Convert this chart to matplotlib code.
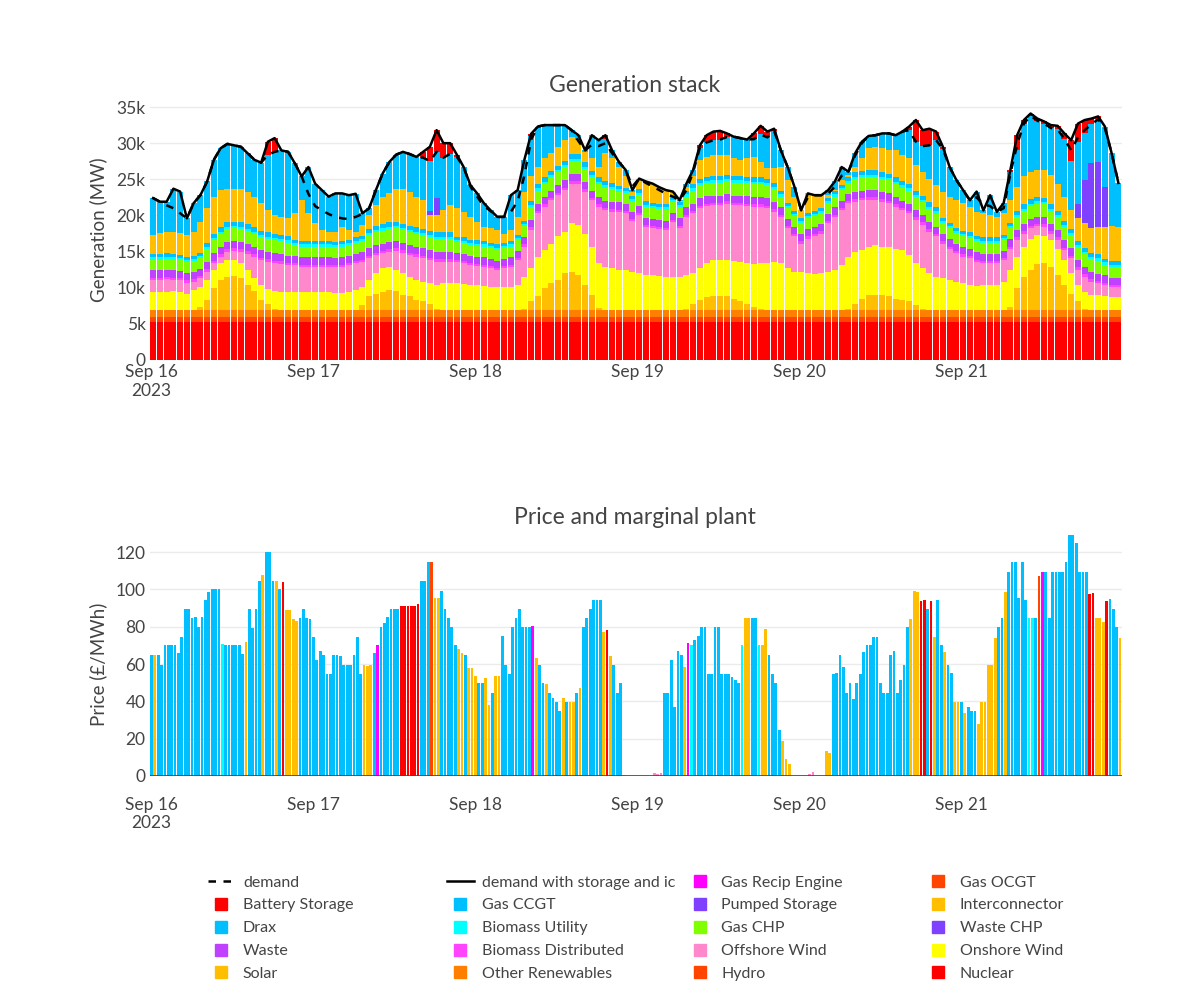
import matplotlib
matplotlib.use("Agg")
import matplotlib.pyplot as plt
from matplotlib.lines import Line2D
import numpy as np

plt.rcParams["font.family"] = ["Lato", "DejaVu Sans"]

# Generation stack, GW, hourly from Sep 16 2023 00:00 (one row per day)
nuclear = [
    5.3, 5.3, 5.3, 5.3, 5.3, 5.3, 5.3, 5.3, 5.3, 5.3, 5.3, 5.3, 5.3, 5.3, 5.3, 5.3, 5.3, 5.3, 5.3, 5.3, 5.3, 5.3, 5.3, 5.3,
    5.3, 5.3, 5.3, 5.3, 5.3, 5.3, 5.3, 5.3, 5.3, 5.3, 5.3, 5.3, 5.3, 5.3, 5.3, 5.3, 5.3, 5.3, 5.3, 5.3, 5.3, 5.3, 5.3, 5.3,
    5.3, 5.3, 5.3, 5.3, 5.3, 5.3, 5.3, 5.3, 5.3, 5.3, 5.3, 5.3, 5.3, 5.3, 5.3, 5.3, 5.3, 5.3, 5.3, 5.3, 5.3, 5.3, 5.3, 5.3,
    5.3, 5.3, 5.3, 5.3, 5.3, 5.3, 5.3, 5.3, 5.3, 5.3, 5.3, 5.3, 5.3, 5.3, 5.3, 5.3, 5.3, 5.3, 5.3, 5.3, 5.3, 5.3, 5.3, 5.3,
    5.3, 5.3, 5.3, 5.3, 5.3, 5.3, 5.3, 5.3, 5.3, 5.3, 5.3, 5.3, 5.3, 5.3, 5.3, 5.3, 5.3, 5.3, 5.3, 5.3, 5.3, 5.3, 5.3, 5.3,
    5.3, 5.3, 5.3, 5.3, 5.3, 5.3, 5.3, 5.3, 5.3, 5.3, 5.3, 5.3, 5.3, 5.3, 5.3, 5.3, 5.3, 5.3, 5.3, 5.3, 5.3, 5.3, 5.3, 5.3,
]
hydro = [
    0.7, 0.7, 0.7, 0.7, 0.7, 0.7, 0.7, 0.7, 0.7, 0.7, 0.7, 0.7, 0.7, 0.7, 0.7, 0.7, 0.7, 0.7, 0.7, 0.7, 0.7, 0.7, 0.7, 0.7,
    0.7, 0.7, 0.7, 0.7, 0.7, 0.7, 0.7, 0.7, 0.7, 0.7, 0.7, 0.7, 0.7, 0.7, 0.7, 0.7, 0.7, 0.7, 0.7, 0.7, 0.7, 0.7, 0.7, 0.7,
    0.7, 0.7, 0.7, 0.7, 0.7, 0.7, 0.7, 0.7, 0.7, 0.7, 0.7, 0.7, 0.7, 0.7, 0.7, 0.7, 0.7, 0.7, 0.7, 0.7, 0.7, 0.7, 0.7, 0.7,
    0.7, 0.7, 0.7, 0.7, 0.7, 0.7, 0.7, 0.7, 0.7, 0.7, 0.7, 0.7, 0.7, 0.7, 0.7, 0.7, 0.7, 0.7, 0.7, 0.7, 0.7, 0.7, 0.7, 0.7,
    0.7, 0.7, 0.7, 0.7, 0.7, 0.7, 0.7, 0.7, 0.7, 0.7, 0.7, 0.7, 0.7, 0.7, 0.7, 0.7, 0.7, 0.7, 0.7, 0.7, 0.7, 0.7, 0.7, 0.7,
    0.7, 0.7, 0.7, 0.7, 0.7, 0.7, 0.7, 0.7, 0.7, 0.7, 0.7, 0.7, 0.7, 0.7, 0.7, 0.7, 0.7, 0.7, 0.7, 0.7, 0.7, 0.7, 0.7, 0.7,
]
other_renewables = [
    0.9, 0.9, 0.9, 0.9, 0.9, 0.9, 0.9, 0.9, 0.9, 0.9, 0.9, 0.9, 0.9, 0.9, 0.9, 0.9, 0.9, 0.9, 0.9, 0.9, 0.9, 0.9, 0.9, 0.9,
    0.9, 0.9, 0.9, 0.9, 0.9, 0.9, 0.9, 0.9, 0.9, 0.9, 0.9, 0.9, 0.9, 0.9, 0.9, 0.9, 0.9, 0.9, 0.9, 0.9, 0.9, 0.9, 0.9, 0.9,
    0.9, 0.9, 0.9, 0.9, 0.9, 0.9, 0.9, 0.9, 0.9, 0.9, 0.9, 0.9, 0.9, 0.9, 0.9, 0.9, 0.9, 0.9, 0.9, 0.9, 0.9, 0.9, 0.9, 0.9,
    0.9, 0.9, 0.9, 0.9, 0.9, 0.9, 0.9, 0.9, 0.9, 0.9, 0.9, 0.9, 0.9, 0.9, 0.9, 0.9, 0.9, 0.9, 0.9, 0.9, 0.9, 0.9, 0.9, 0.9,
    0.9, 0.9, 0.9, 0.9, 0.9, 0.9, 0.9, 0.9, 0.9, 0.9, 0.9, 0.9, 0.9, 0.9, 0.9, 0.9, 0.9, 0.9, 0.9, 0.9, 0.9, 0.9, 0.9, 0.9,
    0.9, 0.9, 0.9, 0.9, 0.9, 0.9, 0.9, 0.9, 0.9, 0.9, 0.9, 0.9, 0.9, 0.9, 0.9, 0.9, 0.9, 0.9, 0.9, 0.9, 0.9, 0.9, 0.9, 0.9,
]
solar = [
    0, 0, 0, 0, 0, 0, 0, 0.5, 1.4, 3.0, 4.2, 4.6, 4.7, 4.4, 3.5, 2.6, 1.4, 0.8, 0.2, 0, 0, 0, 0, 0,
    0, 0, 0, 0, 0, 0, 0, 0.7, 2.0, 2.3, 2.5, 2.8, 2.6, 2.1, 1.9, 1.4, 1.2, 0.9, 0.2, 0, 0, 0, 0, 0,
    0, 0, 0, 0, 0, 0, 0, 0.2, 1.2, 1.9, 3.0, 3.8, 4.2, 5.1, 5.3, 4.9, 3.5, 2.1, 0.3, 0, 0, 0, 0, 0,
    0, 0, 0, 0, 0, 0, 0, 0.2, 0.9, 1.4, 1.8, 1.9, 1.9, 1.9, 1.6, 1.2, 0.8, 0.5, 0.1, 0, 0, 0, 0, 0,
    0, 0, 0, 0, 0, 0, 0, 0.2, 0.9, 1.6, 2.1, 2.1, 2.1, 1.9, 1.6, 1.4, 1.2, 0.7, 0.1, 0, 0, 0, 0, 0,
    0, 0, 0, 0, 0, 0, 0, 0.5, 3.0, 4.6, 5.5, 6.4, 6.5, 6.0, 4.9, 3.5, 2.3, 1.2, 0.2, 0, 0, 0, 0, 0,
]
onshore_wind = [
    2.55, 2.55, 2.55, 2.65, 2.55, 2.3, 2.8, 2.7, 2.8, 2.5, 2.3, 2.4, 2.2, 2.1, 2.0, 1.8, 2.1, 2.1, 2.5, 2.55, 2.55, 2.55, 2.55, 2.55,
    2.55, 2.55, 2.55, 2.4, 2.4, 2.55, 2.8, 2.5, 2.2, 2.8, 3.3, 3.2, 3.0, 3.0, 2.7, 2.8, 2.7, 2.8, 3.3, 3.7, 3.7, 3.7, 3.6, 3.5,
    3.5, 3.3, 3.15, 3.15, 3.15, 3.2, 3.5, 4.4, 4.6, 5.5, 5.3, 5.4, 6.0, 5.7, 6.8, 6.9, 7.1, 6.7, 6.2, 6.0, 5.8, 5.55, 5.55, 5.3,
    5.1, 4.85, 4.85, 4.7, 4.6, 4.6, 4.6, 4.65, 4.2, 4.4, 4.7, 5.0, 5.1, 5.0, 5.2, 5.5, 5.7, 5.95, 6.4, 6.5, 6.7, 6.5, 5.8, 5.3,
    5.3, 5.1, 5.0, 5.1, 5.3, 5.55, 6.2, 7.2, 7.2, 6.7, 6.7, 6.9, 6.7, 6.9, 6.9, 6.9, 6.4, 5.8, 5.7, 5.1, 4.6, 4.4, 4.2, 3.9,
    3.7, 3.5, 3.3, 3.5, 3.5, 3.5, 3.9, 5.05, 4.4, 4.2, 4.4, 4.0, 3.7, 3.7, 3.6, 3.4, 2.8, 2.3, 2.35, 2.1, 2.1, 1.95, 1.85, 1.85,
]
offshore_wind = [
    1.65, 1.65, 1.75, 1.55, 1.55, 1.5, 1.15, 1.2, 1.1, 1.0, 0.9, 1.1, 1.3, 1.6, 2.3, 3.0, 3.4, 3.8, 3.8, 3.85, 3.65, 3.65, 3.45, 3.45,
    3.45, 3.45, 3.45, 3.5, 3.6, 3.65, 3.7, 3.5, 3.0, 2.5, 2.05, 2.1, 2.6, 2.8, 3.0, 3.2, 3.3, 3.2, 3.2, 3.0, 3.0, 2.9, 2.9, 2.7,
    2.6, 2.7, 2.65, 2.4, 2.65, 2.8, 3.4, 4.2, 5.3, 6.0, 6.0, 6.0, 5.7, 5.8, 5.4, 5.7, 5.8, 6.4, 7.8, 7.8, 7.8, 8.05, 7.85, 7.0,
    8.05, 6.65, 6.45, 6.5, 6.5, 7.6, 6.8, 8.05, 8.3, 8.3, 7.9, 7.6, 7.5, 7.8, 7.7, 7.8, 7.9, 7.85, 7.8, 7.6, 6.9, 6.4, 5.5, 4.9,
    3.9, 4.8, 5.2, 5.5, 6.7, 7.35, 7.6, 7.4, 6.9, 6.9, 6.5, 6.3, 6.2, 6.0, 5.8, 5.5, 5.8, 6.0, 6.0, 5.75, 5.6, 4.8, 4.3, 3.95,
    3.7, 3.7, 3.4, 3.0, 3.0, 3.0, 3.0, 2.95, 2.3, 1.8, 1.4, 1.2, 1.3, 0.9, 1.2, 1.4, 2.1, 2.05, 2.05, 1.8, 1.6, 1.55, 1.35, 1.35,
]
biomass_distributed = [
    0.3, 0.3, 0.3, 0.3, 0.3, 0.3, 0.3, 0.3, 0.35, 0.35, 0.35, 0.35, 0.35, 0.35, 0.35, 0.35, 0.35, 0.35, 0.35, 0.35, 0.35, 0.3, 0.3, 0.3,
    0.3, 0.3, 0.3, 0.3, 0.3, 0.3, 0.3, 0.3, 0.35, 0.35, 0.35, 0.35, 0.35, 0.35, 0.35, 0.35, 0.35, 0.35, 0.35, 0.35, 0.35, 0.3, 0.3, 0.3,
    0.3, 0.3, 0.3, 0.3, 0.3, 0.3, 0.3, 0.3, 0.35, 0.35, 0.35, 0.35, 0.35, 0.35, 0.35, 0.35, 0.35, 0.35, 0.35, 0.35, 0.35, 0.3, 0.3, 0.3,
    0.3, 0.3, 0.3, 0.3, 0.3, 0.3, 0.3, 0.3, 0.35, 0.35, 0.35, 0.35, 0.35, 0.35, 0.35, 0.35, 0.35, 0.35, 0.35, 0.35, 0.35, 0.3, 0.3, 0.3,
    0.3, 0.3, 0.3, 0.3, 0.3, 0.3, 0.3, 0.3, 0.35, 0.35, 0.35, 0.35, 0.35, 0.35, 0.35, 0.35, 0.35, 0.35, 0.35, 0.35, 0.35, 0.3, 0.3, 0.3,
    0.3, 0.3, 0.3, 0.3, 0.3, 0.3, 0.3, 0.3, 0.35, 0.35, 0.35, 0.35, 0.35, 0.35, 0.35, 0.35, 0.35, 0.35, 0.35, 0.35, 0.35, 0.3, 0.3, 0.3,
]
waste = [
    1.0, 1.0, 1.0, 1.0, 1.0, 1.0, 1.0, 1.0, 1.0, 1.0, 1.0, 1.0, 1.0, 1.0, 1.0, 1.0, 1.0, 1.0, 1.0, 1.0, 1.0, 1.0, 1.0, 1.0,
    1.0, 1.0, 1.0, 1.0, 1.0, 1.0, 1.0, 1.0, 1.0, 1.0, 1.0, 1.0, 1.0, 1.0, 1.0, 1.0, 1.0, 1.0, 1.0, 1.0, 1.0, 1.0, 1.0, 1.0,
    1.0, 1.0, 1.0, 1.0, 1.0, 1.0, 1.0, 1.0, 1.0, 1.0, 1.0, 1.0, 1.0, 1.0, 1.0, 1.0, 1.0, 1.0, 1.0, 1.0, 1.0, 1.0, 1.0, 1.0,
    1.0, 1.0, 1.0, 1.0, 1.0, 1.0, 1.0, 1.0, 1.0, 1.0, 1.0, 1.0, 1.0, 1.0, 1.0, 1.0, 1.0, 1.0, 1.0, 1.0, 1.0, 1.0, 1.0, 1.0,
    1.0, 1.0, 1.0, 1.0, 1.0, 1.0, 1.0, 1.0, 1.0, 1.0, 1.0, 1.0, 1.0, 1.0, 1.0, 1.0, 1.0, 1.0, 1.0, 1.0, 1.0, 1.0, 1.0, 1.0,
    1.0, 1.0, 1.0, 1.0, 1.0, 1.0, 1.0, 1.0, 1.0, 1.0, 1.0, 1.0, 1.0, 1.0, 1.0, 1.0, 1.0, 1.0, 1.0, 1.0, 1.0, 1.0, 1.0, 1.0,
]
gas_chp = [
    1.5, 1.5, 1.5, 1.5, 1.5, 1.5, 1.5, 1.5, 1.8, 1.8, 1.8, 1.8, 1.8, 1.8, 1.8, 1.8, 1.8, 1.8, 1.8, 1.8, 1.8, 1.5, 1.5, 1.5,
    1.5, 1.5, 1.5, 1.5, 1.5, 1.5, 1.5, 1.5, 1.8, 1.8, 1.8, 1.8, 1.8, 1.8, 1.8, 1.8, 1.8, 1.8, 1.8, 1.8, 1.8, 1.5, 1.5, 1.5,
    1.5, 1.5, 1.5, 1.5, 1.5, 1.5, 1.5, 1.5, 1.8, 1.8, 1.8, 1.8, 1.8, 1.8, 1.8, 1.8, 1.8, 1.8, 1.8, 1.8, 1.8, 1.5, 1.5, 1.5,
    1.5, 1.5, 1.5, 1.5, 1.5, 1.5, 1.5, 1.5, 1.8, 1.8, 1.8, 1.8, 1.8, 1.8, 1.8, 1.8, 1.8, 1.8, 1.8, 1.8, 1.8, 1.5, 1.5, 1.5,
    1.5, 1.5, 1.5, 1.5, 1.5, 1.5, 1.5, 1.5, 1.8, 1.8, 1.8, 1.8, 1.8, 1.8, 1.8, 1.8, 1.8, 1.8, 1.8, 1.8, 1.8, 1.5, 1.5, 1.5,
    1.5, 1.5, 1.5, 1.5, 1.5, 1.5, 1.5, 1.5, 1.8, 1.8, 1.8, 1.8, 1.8, 1.8, 1.8, 1.8, 1.8, 1.8, 1.8, 1.8, 1.8, 1.5, 1.5, 1.5,
]
biomass_utility = [
    0.3, 0.3, 0.3, 0.3, 0.3, 0.3, 0.3, 0.3, 0.3, 0.3, 0.3, 0.3, 0.3, 0.3, 0.3, 0.3, 0.3, 0.3, 0.3, 0.3, 0.3, 0.3, 0.3, 0.3,
    0.3, 0.3, 0.3, 0.3, 0.3, 0.3, 0.3, 0.3, 0.3, 0.3, 0.3, 0.3, 0.3, 0.3, 0.3, 0.3, 0.3, 0.3, 0.3, 0.3, 0.3, 0.3, 0.3, 0.3,
    0.3, 0.3, 0.3, 0.3, 0.3, 0.3, 0.3, 0.3, 0.3, 0.3, 0.3, 0.3, 0.3, 0.3, 0.3, 0.3, 0.3, 0.3, 0.3, 0.3, 0.3, 0.3, 0.3, 0.3,
    0.3, 0.3, 0.3, 0.3, 0.3, 0.3, 0.3, 0.3, 0.3, 0.3, 0.3, 0.3, 0.3, 0.3, 0.3, 0.3, 0.3, 0.3, 0.3, 0.3, 0.3, 0.3, 0.3, 0.3,
    0.3, 0.3, 0.3, 0.3, 0.3, 0.3, 0.3, 0.3, 0.3, 0.3, 0.3, 0.3, 0.3, 0.3, 0.3, 0.3, 0.3, 0.3, 0.3, 0.3, 0.3, 0.3, 0.3, 0.3,
    0.3, 0.3, 0.3, 0.3, 0.3, 0.3, 0.3, 0.3, 0.3, 0.3, 0.3, 0.3, 0.3, 0.3, 0.3, 0.3, 0.3, 0.3, 0.3, 0.3, 0.3, 0.3, 0.3, 0.3,
]
drax = [
    0.45, 0.45, 0.45, 0.45, 0.45, 0.45, 0.45, 0.45, 0.6, 0.6, 0.6, 0.6, 0.6, 0.6, 0.6, 0.6, 0.6, 0.6, 0.6, 0.6, 0.6, 0.45, 0.45, 0.45,
    0.45, 0.45, 0.45, 0.45, 0.45, 0.45, 0.45, 0.45, 0.6, 0.6, 0.6, 0.6, 0.6, 0.6, 0.6, 0.6, 0.6, 0.6, 0.6, 0.6, 0.6, 0.45, 0.45, 0.45,
    0.45, 0.45, 0.45, 0.45, 0.45, 0.45, 0.45, 0.45, 0.6, 0.6, 0.6, 0.6, 0.6, 0.6, 0.6, 0.6, 0.6, 0.6, 0.6, 0.6, 0.6, 0.45, 0.45, 0.45,
    0.45, 0.45, 0.45, 0.45, 0.45, 0.45, 0.45, 0.45, 0.6, 0.6, 0.6, 0.6, 0.6, 0.6, 0.6, 0.6, 0.6, 0.6, 0.6, 0.6, 0.6, 0.45, 0.45, 0.45,
    0.45, 0.45, 0.45, 0.45, 0.45, 0.45, 0.45, 0.45, 0.6, 0.6, 0.6, 0.6, 0.6, 0.6, 0.6, 0.6, 0.6, 0.6, 0.6, 0.6, 0.6, 0.45, 0.45, 0.45,
    0.45, 0.45, 0.45, 0.45, 0.45, 0.45, 0.45, 0.45, 0.6, 0.6, 0.6, 0.6, 0.6, 0.6, 0.6, 0.6, 0.6, 0.6, 0.6, 0.6, 0.6, 0.45, 0.45, 0.45,
]
interconnector = [
    2.65, 2.95, 3.0, 3.1, 3.05, 3.05, 3.35, 4.25, 4.75, 5.15, 5.15, 4.65, 4.55, 4.55, 4.55, 4.25, 3.85, 3.05, 2.6, 2.45, 2.45, 3.65, 5.65, 3.85,
    2.45, 1.55, 1.3, 1.4, 1.95, 1.35, 0.8, 1.55, 1.9, 2.85, 3.8, 4.0, 4.55, 4.75, 4.75, 4.25, 3.95, 2.2, 2.4, 3.05, 3.75, 3.95, 3.55, 3.15,
    2.55, 1.95, 1.95, 2.0, 1.25, 1.55, 2.45, 4.05, 3.35, 2.35, 2.65, 2.45, 2.65, 2.85, 2.45, 1.95, 1.45, 1.75, 1.45, 3.85, 3.35, 2.65, 1.55, 0.55,
    1.5, 2.75, 2.65, 2.25, 1.95, 0.65, 0.15, 0.65, 1.05, 2.65, 2.75, 2.95, 2.95, 2.65, 2.45, 2.25, 2.55, 2.85, 2.15, 1.45, 1.95, 3.35, 3.15, 1.95,
    1.05, 2.7, 2.15, 1.75, 0.35, 0.15, 0.65, 0.35, 0.75, 1.75, 3.05, 3.25, 3.35, 3.25, 3.75, 3.65, 3.55, 3.55, 3.3, 3.3, 3.05, 3.65, 3.65, 3.8,
    3.85, 3.55, 3.35, 3.35, 3.1, 2.85, 2.95, 3.15, 3.35, 3.85, 3.8, 3.75, 3.85, 4.05, 3.75, 3.35, 2.55, 3.1, 3.35, 3.35, 3.75, 4.45, 4.95, 4.75,
]
pumped_storage = [
    0, 0, 0, 0, 0, 0, 0, 0, 0, 0, 0, 0, 0, 0, 0, 0, 0, 0, 0, 0, 0, 0, 0, 0,
    0, 0, 0, 0, 0, 0, 0, 0, 0, 0, 0, 0, 0, 0, 0, 0, 0, 0.5, 2.3, 0, 0, 0, 0, 0,
    0, 0, 0, 0, 0, 0, 0, 0, 0, 0, 0, 0, 0, 0, 0, 0, 0, 0, 0, 0, 0, 0, 0, 0,
    0, 0, 0, 0, 0, 0, 0, 0, 0, 0, 0, 0, 0, 0, 0, 0, 0, 0, 0, 0, 0, 0, 0, 0,
    0, 0, 0, 0, 0, 0, 0, 0, 0, 0, 0, 0, 0, 0, 0, 0, 0, 0, 0, 0, 0, 0, 0, 0,
    0, 0, 0, 0, 0, 0, 0, 0, 0, 0, 0, 0, 0, 0, 0, 0, 0, 2.0, 6.0, 9.0, 9.0, 5.5, 0, 0,
]
gas_ccgt = [
    5.1, 4.3, 4.15, 5.95, 5.7, 2.3, 3.95, 3.7, 3.7, 5.1, 5.8, 6.2, 6.0, 5.9, 5.3, 5.1, 5.6, 7.7, 8.75, 9.2, 9.2, 6.9, 3.3, 6.4,
    5.5, 5.5, 4.85, 5.3, 4.65, 4.8, 5.25, 1.6, 0.95, 2.1, 3.2, 4.35, 4.7, 5.2, 5.2, 5.5, 5.9, 6.95, 6.45, 7.3, 7.1, 7.1, 6.2, 4.4,
    3.95, 3.3, 2.5, 1.8, 2.3, 4.8, 3.7, 4.4, 5.6, 5.6, 4.6, 3.9, 3.0, 2.1, 0.9, 0.7, 0.2, 3.2, 3.7, 2.0, 1.1, 0.7, 0.9, 0.2,
    0, 0, 0, 0, 0, 0, 0.1, 0.4, 0.9, 1.7, 2.0, 2.0, 2.1, 2.55, 3.0, 3.0, 2.6, 2.45, 3.8, 4.3, 5.2, 2.3, 1.8, 1.4,
    0, 0, 0, 0, 0.7, 1.2, 1.8, 0.45, 1.9, 2.3, 1.7, 1.6, 2.05, 2.35, 2.1, 3.2, 3.9, 3.2, 3.55, 4.6, 6.2, 5.9, 4.1, 2.8,
    1.8, 0.9, 2.8, 0.4, 2.75, 0.7, 1.4, 3.9, 5.1, 7.3, 7.75, 6.8, 6.4, 6.5, 7.5, 7.95, 6.9, 8.6, 6.5, 5.4, 5.9, 8.4, 10.0, 6.1,
]
battery_storage = [
    0, 0, 0, 0, 0, 0, 0, 0, 0, 0, 0, 0, 0, 0, 0, 0, 0, 1.8, 1.9, 0, 0, 0, 0, 0,
    0, 0, 0, 0, 0, 0, 0, 0, 0, 0, 0, 0, 0, 0, 0, 0, 0.8, 2.0, 3.0, 2.0, 1.5, 0.3, 0, 0,
    0, 0, 0, 0, 0, 0, 0, 0, 0.3, 0, 0, 0, 0, 0, 0, 0, 0, 0, 0, 0.5, 0, 0, 0, 0,
    0, 0, 0, 0, 0, 0, 0, 0, 0, 0.3, 1.0, 1.2, 1.2, 0.5, 0, 0, 0, 0.8, 1.2, 0.8, 0.3, 0, 0, 0,
    0, 0, 0, 0, 0, 0, 0, 0, 0, 0, 0, 0, 0, 0, 0, 0, 0.5, 3.0, 2.2, 2.3, 1.2, 0.3, 0, 0,
    0, 0, 0, 0, 0, 0, 0, 0.3, 2.0, 0.5, 0.3, 0.3, 0.3, 0.4, 0.5, 0.8, 2.8, 2.5, 1.8, 0.8, 0.4, 0, 0, 0,
]
demand = [
    22.4, 21.9, 21.4, 21.0, 20.3, 19.6, 21.7, 22.8, 24.7, 27.7, 29.3, 29.9, 29.7, 29.5, 28.6, 27.7, 27.3, 28.4, 28.8, 29.0, 28.8, 27.2, 25.4, 23.0,
    21.3, 20.7, 20.2, 19.8, 19.6, 19.5, 19.8, 20.2, 21.0, 23.5, 25.8, 27.4, 28.4, 28.8, 28.5, 28.1, 28.0, 27.5, 28.8, 28.0, 28.5, 28.1, 26.7, 24.0,
    22.6, 21.3, 20.6, 19.8, 19.8, 20.5, 22.0, 25.5, 30.5, 32.3, 32.5, 32.5, 32.5, 32.5, 31.8, 30.3, 29.0, 29.8, 29.6, 30.0, 28.6, 27.4, 26.3, 24.0,
    25.1, 24.5, 24.0, 23.5, 23.0, 22.6, 22.1, 23.5, 26.0, 29.4, 30.1, 30.4, 30.5, 30.85, 30.9, 30.7, 30.5, 30.55, 31.2, 30.8, 31.7, 29.0, 26.7, 24.0,
    20.7, 22.5, 22.8, 22.8, 23.0, 24.0, 25.5, 26.0, 28.3, 30.0, 31.0, 31.1, 31.35, 31.35, 31.1, 31.6, 31.8, 30.2, 29.6, 29.7, 30.4, 29.2, 26.7, 24.9,
    23.5, 22.1, 22.5, 21.5, 21.3, 20.5, 21.0, 25.8, 29.8, 32.7, 33.8, 33.1, 32.7, 32.1, 31.9, 30.6, 29.0, 30.8, 31.8, 32.6, 33.3, 32.1, 28.6, 24.5,
]
demand_storage_ic = [
    22.4, 21.9, 21.9, 23.7, 23.3, 19.6, 21.7, 22.8, 24.7, 27.7, 29.3, 29.9, 29.7, 29.5, 28.6, 27.7, 27.3, 30.2, 30.7, 29.0, 28.8, 27.2, 25.4, 26.7,
    24.4, 23.5, 22.6, 23.05, 23.05, 22.8, 23.0, 20.3, 21.0, 23.5, 25.8, 27.4, 28.4, 28.8, 28.5, 28.1, 28.8, 29.5, 31.8, 30.0, 30.0, 28.4, 26.7, 24.2,
    23.05, 21.7, 20.7, 19.8, 19.8, 22.8, 23.5, 27.7, 31.3, 32.3, 32.5, 32.5, 32.5, 32.5, 31.8, 31.1, 29.0, 31.1, 30.4, 31.1, 29.0, 27.4, 26.3, 23.5,
    25.1, 24.7, 24.4, 23.9, 23.5, 23.3, 22.1, 24.4, 26.3, 29.7, 31.1, 31.6, 31.7, 31.35, 30.9, 30.7, 30.5, 31.35, 32.4, 31.6, 32.0, 29.0, 26.7, 24.0,
    20.7, 23.05, 22.8, 22.8, 23.5, 24.7, 26.7, 26.05, 28.6, 30.2, 31.0, 31.1, 31.35, 31.35, 31.1, 31.6, 32.3, 33.2, 31.8, 32.0, 31.6, 29.5, 26.7, 24.9,
    23.5, 22.1, 23.3, 20.7, 22.8, 20.5, 21.7, 26.3, 31.1, 33.2, 34.1, 33.4, 33.0, 32.5, 32.4, 31.35, 30.4, 32.7, 33.2, 33.4, 33.7, 32.3, 28.6, 24.5,
]

# Price (GBP/MWh), half-hourly, and marginal plant code for each period
price = [
    65, 65, 65, 59.5, 70, 70, 70, 70, 66, 74.5, 89.5, 89.5, 84.7, 85, 80, 85, 94.3, 98.5, 100, 100, 100, 70.7, 70, 70,
    70, 70, 70, 65.4, 71.8, 89.5, 79.5, 89.5, 104.5, 107.7, 120, 120, 104.5, 104.5, 100, 104, 89, 89, 84.1, 83.2, 84.7, 89.5, 84.7, 84.1,
    74.7, 62.2, 67.2, 65, 54.7, 54.7, 65, 65, 64.3, 59.5, 59.5, 59.5, 65, 74.7, 54.7, 59.5, 59, 59.5, 66, 70, 80, 82, 85, 89.5,
    89.5, 89.5, 91, 91, 91, 91, 91, 92.2, 104.5, 104.5, 114.7, 114.7, 95.4, 95.4, 99.1, 89.5, 84.7, 80, 70, 68, 66, 65, 58, 58,
    53.8, 50, 50, 52.5, 38, 44.5, 53.8, 53.8, 75, 59.5, 54.7, 80, 84.7, 89.5, 80, 80, 80, 80.4, 63.4, 59.5, 50, 49.3, 44.5, 42,
    39.7, 34.8, 42, 39.7, 39.7, 39.7, 44.5, 47.2, 80, 84.7, 89.5, 94.3, 94.3, 94.3, 77.2, 78.2, 64.3, 59.5, 44.5, 50, 0.5, 0, 0, 0,
    0, 0, 0, 0, 0, 1.4, 0.9, 1.6, 44.5, 44.5, 62.2, 37, 67.2, 65, 58.6, 71.1, 70, 72.9, 75, 80, 80, 54.7, 54.7, 80,
    80, 54.7, 54.7, 54.7, 53.2, 51.4, 50, 70, 84.7, 84.7, 84.7, 84.7, 70, 70.2, 78.8, 65, 54.7, 50, 24.7, 18.8, 9.1, 6.4, 0, 0,
    0, 0, 0, 1.3, 2.0, 0, 0, 0, 13.4, 12.5, 54.7, 55.2, 65, 58.6, 44.5, 50, 41.4, 50, 54.7, 66.4, 70, 70, 74.5, 74.5,
    50, 44.5, 44.5, 65, 67.2, 44.5, 51.4, 59.5, 79.7, 84.1, 99.1, 98.6, 93.8, 94.3, 89.5, 93.8, 74.5, 94.3, 70, 66.4, 59.5, 55.2, 39.7, 39.7,
    39.7, 33.8, 37, 34.8, 34.8, 27.9, 39.7, 39.7, 59.5, 59.5, 74, 79.9, 84.7, 98.6, 109.3, 114.7, 114.7, 95.4, 114.7, 94.3, 84.7, 84.7, 84.7, 107.2,
    109.3, 109.3, 84.7, 109.3, 109.3, 109.3, 109.3, 114.7, 129.3, 129.3, 124.7, 109.3, 109.3, 109.3, 97.5, 98.1, 84.7, 84.7, 82.5, 93.8, 94.9, 89.5, 79.9, 74,
]
# C Gas CCGT, I Interconnector, U Biomass Utility, B Battery Storage,
# G Gas Recip Engine, O Gas OCGT, W Offshore Wind
marginal = (
    "C I C C C C C C C C C C C C C C C C C C C U C C "
    "C C C C I C C C C I C C C I C B I I I I C C C C "
    "C C C C C C C C C C C C C C C I I I C G C C C C "
    "C C B B B B B B C C C O I I C C C C C I I C I I "
    "I C C I I C I I C C C C C C C C C G I C C I C C "
    "C C I C I I C I C C C C C C I B I C C C I C C C "
    "C C C C C W W W C C C C C C I G U C C C C C C C "
    "C C C C C C C U I I C C U I I C C C C I I I C C "
    "C C C W W C C C I I C C C C C C C C C C C C C C "
    "C C C C C C C C C I I I B B C B I C C I C C I I "
    "C I C C C I I I I I I C C I C C C C C C U U C O "
    "G C C C C C C C C C C C C C B B I I I B C C C I"
).split()

day_labels = ["Sep 16\n2023", "Sep 17", "Sep 18", "Sep 19", "Sep 20", "Sep 21"]

# colours
c_nuclear = "#FF0000"
c_hydro = "#FF4500"
c_other = "#FF8000"
c_solar = "#FFBF00"
c_onshore = "#FFFF00"
c_offshore = "#FF88CC"
c_biodist = "#FF44FF"
c_waste = "#BF40FF"
c_wastechp = "#8040FF"
c_chp = "#80FF00"
c_bioutil = "#00FFFF"
c_drax = "#00BFFF"
c_ic = "#FFBF00"
c_pumped = "#8040FF"
c_ccgt = "#00BFFF"
c_battery = "#FF0000"
c_ocgt = "#FF4500"
c_recip = "#FF00FF"
code_colors = {"C": c_ccgt, "I": c_ic, "U": c_bioutil, "B": c_battery,
               "G": c_recip, "O": c_ocgt, "W": c_offshore}

text_col = "#444444"

stack = [
    (nuclear, c_nuclear), (hydro, c_hydro), (other_renewables, c_other),
    (solar, c_solar), (onshore_wind, c_onshore), (offshore_wind, c_offshore),
    (biomass_distributed, c_biodist), (waste, c_waste), (gas_chp, c_chp),
    (biomass_utility, c_bioutil), (drax, c_drax), (interconnector, c_ic),
    (pumped_storage, c_pumped), (gas_ccgt, c_ccgt), (battery_storage, c_battery),
]
for vals, _ in stack:
    assert len(vals) == len(demand_storage_ic)
assert len(price) == len(marginal) == 2 * len(demand_storage_ic)

fig = plt.figure(figsize=(12, 10), dpi=100)
fig.patch.set_facecolor("white")
ax1 = fig.add_axes([0.1248, 0.64, 0.81, 0.2602])
ax2 = fig.add_axes([0.1248, 0.224, 0.81, 0.2444])

# generation stack (hours since Sep 16 00:00)
hrs = np.arange(len(demand_storage_ic)) + 0.25
bottom = np.zeros(len(hrs))
for vals, col in stack:
    v = np.array(vals, dtype=float)
    ax1.bar(hrs, v, width=0.86, bottom=bottom, color=col, linewidth=0, zorder=2)
    bottom += v
ax1.plot(hrs, demand, color="black", lw=1.8, ls=(0, (3, 3)), zorder=4)
ax1.plot(hrs, demand_storage_ic, color="black", lw=1.8, zorder=5)

# price and marginal plant
slots = np.arange(len(price)) * 0.5
ax2.bar(slots, price, width=0.42, color=[code_colors[c] for c in marginal],
        linewidth=0, zorder=2)
ax2.axhline(0, color=text_col, lw=1.2, zorder=3)

ax1.set_ylim(0, 36.0)
ax1.set_yticks(np.arange(0, 36, 5))
ax1.set_yticklabels(["0"] + [f"{v}k" for v in range(5, 36, 5)])
ax2.set_ylim(0, 131)
ax2.set_yticks(np.arange(0, 121, 20))

for ax, pad in ((ax1, 3), (ax2, 15)):
    ax.set_xlim(-0.25, 143.75)
    for s in ax.spines.values():
        s.set_visible(False)
    ax.grid(axis="y", color="#EBEBEB", lw=1)
    ax.set_axisbelow(True)
    ax.set_xticks(np.arange(0, 144, 24))
    ax.set_xticklabels(day_labels)
    ax.tick_params(axis="x", length=0, pad=pad, labelsize=12.5, colors=text_col)
    ax.tick_params(axis="y", length=0, pad=3, labelsize=12.5, colors=text_col)

fig.text(0.529, 0.915, "Generation stack", ha="center", va="center",
         fontsize=16.5, color=text_col)
fig.text(0.529, 0.482, "Price and marginal plant", ha="center", va="center",
         fontsize=16.5, color=text_col)
fig.text(0.0817, 0.77, "Generation (MW)", rotation=90, ha="center",
         va="center", fontsize=13.5, color=text_col)
fig.text(0.0817, 0.336, "Price (£/MWh)", rotation=90, ha="center",
         va="center", fontsize=13.5, color=text_col)

# legend: four columns laid out like the original (row-wise order)
def sq(col):
    return Line2D([], [], marker="s", ls="none", markersize=8.5, color=col)

columns = [
    [(Line2D([], [], color="black", lw=1.8, ls=(0, (3, 3))), "demand"),
     (sq(c_battery), "Battery Storage"), (sq(c_drax), "Drax"),
     (sq(c_waste), "Waste"), (sq(c_solar), "Solar")],
    [(Line2D([], [], color="black", lw=1.8), "demand with storage and ic"),
     (sq(c_ccgt), "Gas CCGT"), (sq(c_bioutil), "Biomass Utility"),
     (sq(c_biodist), "Biomass Distributed"), (sq(c_other), "Other Renewables")],
    [(sq(c_recip), "Gas Recip Engine"), (sq(c_pumped), "Pumped Storage"),
     (sq(c_chp), "Gas CHP"), (sq(c_offshore), "Offshore Wind"),
     (sq(c_hydro), "Hydro")],
    [(sq(c_ocgt), "Gas OCGT"), (sq(c_ic), "Interconnector"),
     (sq(c_wastechp), "Waste CHP"), (sq(c_onshore), "Onshore Wind"),
     (sq(c_nuclear), "Nuclear")],
]
col_x = [0.1733, 0.3725, 0.5717, 0.7708]
for x, items in zip(col_x, columns):
    fig.legend([h for h, _ in items], [l for _, l in items], loc="upper left",
               bbox_to_anchor=(x, 0.1245), frameon=False, fontsize=11.5,
               handlelength=1.69, handletextpad=0.5, labelspacing=0.54,
               borderpad=0, borderaxespad=0, labelcolor=text_col)

fig.savefig("out.png", dpi=100, facecolor="white")
